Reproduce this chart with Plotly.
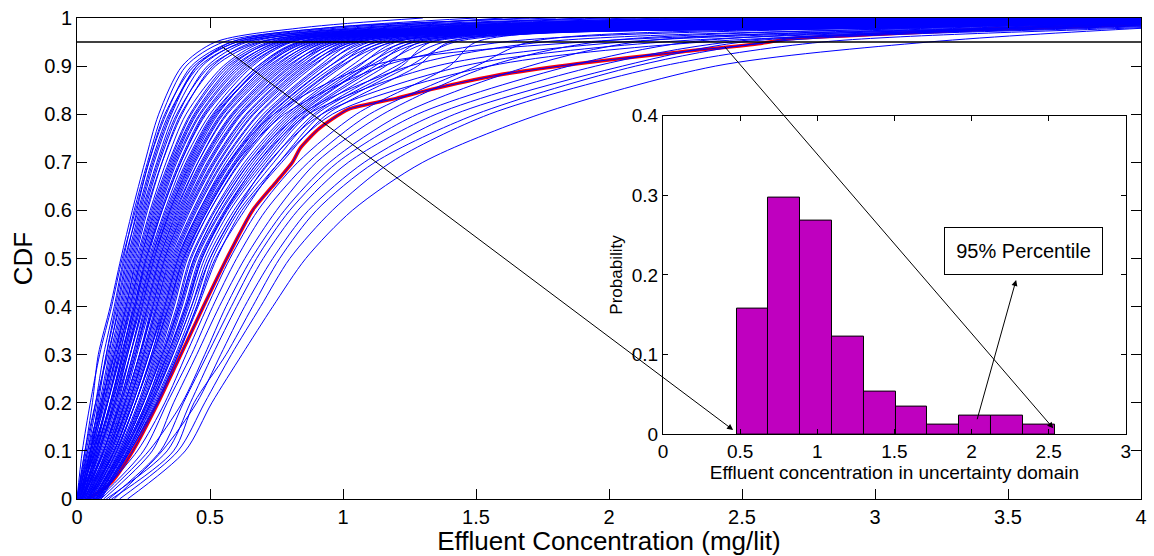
import plotly.graph_objects as go
import numpy as np

# ---------------- data ----------------
# CDF levels at which each Monte-Carlo curve is sampled
cdf_levels = [0.0, 0.1, 0.2, 0.3, 0.4, 0.5, 0.6, 0.7, 0.8, 0.9, 0.95, 0.98, 1.0]

# effluent concentration (mg/lit) reached by each curve at the CDF levels above
curves_dense = [
    [0.0, 0.03, 0.058, 0.08, 0.125, 0.165, 0.208, 0.255, 0.307, 0.395, 0.52, 0.85, 1.3],
    [0.0, 0.02, 0.05, 0.085, 0.13, 0.17, 0.22, 0.27, 0.33, 0.44, 0.6, 1.1, 2.1],
    [0.0, 0.035, 0.07, 0.1, 0.14, 0.175, 0.215, 0.265, 0.32, 0.41, 0.55, 0.95, 1.5],
    [0.01, 0.05, 0.08, 0.11, 0.145, 0.18, 0.23, 0.28, 0.345, 0.46, 0.63, 1.3, 2.4],
    [0.005, 0.04, 0.075, 0.11, 0.15, 0.185, 0.225, 0.27, 0.335, 0.43, 0.58, 1.0, 1.7],
    [0.0, 0.045, 0.085, 0.12, 0.155, 0.19, 0.235, 0.285, 0.35, 0.45, 0.6, 1.1, 1.6],
    [0.0, 0.03, 0.07, 0.115, 0.16, 0.195, 0.24, 0.29, 0.355, 0.45, 0.58, 0.95, 1.8],
    [0.01, 0.05, 0.09, 0.125, 0.165, 0.2, 0.245, 0.3, 0.365, 0.47, 0.62, 1.05, 2.0],
    [0.02, 0.055, 0.095, 0.13, 0.17, 0.205, 0.25, 0.305, 0.375, 0.5, 0.68, 1.4, 2.9],
    [0.0, 0.05, 0.095, 0.135, 0.175, 0.21, 0.255, 0.31, 0.38, 0.49, 0.64, 1.2, 1.9],
    [0.015, 0.06, 0.1, 0.14, 0.18, 0.215, 0.26, 0.32, 0.395, 0.51, 0.66, 1.15, 2.3],
    [0.0, 0.04, 0.09, 0.14, 0.185, 0.22, 0.265, 0.32, 0.39, 0.52, 0.69, 1.2, 2.5],
    [0.005, 0.055, 0.105, 0.145, 0.185, 0.225, 0.275, 0.335, 0.41, 0.55, 0.70, 1.3, 2.2],
    [0.01, 0.065, 0.11, 0.15, 0.19, 0.23, 0.28, 0.345, 0.425, 0.56, 0.72, 1.25, 2.6],
    [0.01, 0.065, 0.115, 0.155, 0.195, 0.235, 0.285, 0.35, 0.43, 0.57, 0.74, 1.5, 3.3],
    [0.02, 0.07, 0.115, 0.16, 0.2, 0.24, 0.29, 0.355, 0.44, 0.58, 0.73, 1.4, 2.4],
    [0.0, 0.05, 0.1, 0.15, 0.2, 0.24, 0.295, 0.36, 0.445, 0.59, 0.76, 1.45, 2.7],
    [0.0, 0.06, 0.115, 0.16, 0.205, 0.245, 0.3, 0.365, 0.45, 0.6, 0.75, 1.35, 2.8],
    [0.01, 0.075, 0.125, 0.17, 0.21, 0.25, 0.305, 0.37, 0.46, 0.61, 0.77, 1.5, 2.5],
    [0.02, 0.075, 0.125, 0.17, 0.215, 0.255, 0.31, 0.375, 0.465, 0.62, 0.79, 1.6, 3.5],
    [0.02, 0.08, 0.13, 0.175, 0.22, 0.26, 0.315, 0.385, 0.475, 0.63, 0.78, 1.45, 3.0],
    [0.01, 0.06, 0.115, 0.165, 0.215, 0.26, 0.32, 0.39, 0.48, 0.64, 0.8, 1.35, 2.6],
    [0.005, 0.07, 0.125, 0.175, 0.22, 0.265, 0.32, 0.39, 0.485, 0.65, 0.80, 1.6, 2.7],
    [0.015, 0.085, 0.135, 0.18, 0.225, 0.27, 0.33, 0.40, 0.5, 0.66, 0.81, 1.55, 3.2],
    [0.025, 0.085, 0.14, 0.185, 0.23, 0.275, 0.335, 0.41, 0.51, 0.68, 0.84, 1.75, 3.6],
    [0.02, 0.09, 0.145, 0.19, 0.235, 0.28, 0.34, 0.415, 0.515, 0.68, 0.83, 1.7, 2.9],
    [0.0, 0.07, 0.13, 0.185, 0.235, 0.28, 0.345, 0.42, 0.52, 0.7, 0.87, 1.6, 3.0],
    [0.01, 0.08, 0.14, 0.19, 0.24, 0.285, 0.35, 0.425, 0.525, 0.7, 0.85, 1.65, 3.4],
    [0.025, 0.095, 0.15, 0.2, 0.245, 0.29, 0.355, 0.435, 0.54, 0.71, 0.86, 1.8, 3.1],
    [0.03, 0.1, 0.155, 0.2, 0.245, 0.29, 0.35, 0.43, 0.53, 0.69, 0.84, 1.55, 3.9],
    [0.015, 0.085, 0.145, 0.2, 0.25, 0.295, 0.36, 0.44, 0.545, 0.72, 0.89, 1.85, 3.4],
    [0.015, 0.1, 0.16, 0.21, 0.255, 0.3, 0.365, 0.445, 0.55, 0.73, 0.88, 1.75, 3.6],
    [0.03, 0.1, 0.16, 0.21, 0.26, 0.305, 0.37, 0.455, 0.565, 0.75, 0.90, 1.9, 3.3],
    [0.02, 0.105, 0.165, 0.215, 0.265, 0.31, 0.38, 0.465, 0.58, 0.76, 0.92, 1.85, 3.8],
    [0.035, 0.11, 0.17, 0.22, 0.265, 0.31, 0.375, 0.455, 0.56, 0.74, 0.91, 1.7, 4.1],
    [0.02, 0.1, 0.165, 0.22, 0.27, 0.315, 0.385, 0.47, 0.585, 0.77, 0.94, 2.0, 3.8],
    [0.03, 0.11, 0.175, 0.225, 0.275, 0.32, 0.39, 0.475, 0.59, 0.78, 0.93, 2.0, 3.5],
    [0.04, 0.115, 0.18, 0.235, 0.28, 0.325, 0.395, 0.48, 0.6, 0.79, 0.97, 1.9, 4.3],
    [0.035, 0.12, 0.18, 0.235, 0.285, 0.33, 0.4, 0.49, 0.61, 0.8, 0.95, 1.95, 4.0],
    [0.03, 0.12, 0.185, 0.24, 0.285, 0.33, 0.405, 0.495, 0.615, 0.81, 0.99, 2.2, 3.7],
    [0.025, 0.115, 0.18, 0.235, 0.29, 0.335, 0.41, 0.5, 0.62, 0.82, 0.96, 2.1, 3.7],
    [0.04, 0.125, 0.19, 0.245, 0.295, 0.34, 0.415, 0.51, 0.635, 0.83, 0.98, 2.05, 4.2],
    [0.045, 0.13, 0.195, 0.25, 0.3, 0.345, 0.42, 0.515, 0.64, 0.84, 1.01, 2.1, 4.5],
    [0.04, 0.13, 0.195, 0.25, 0.3, 0.35, 0.425, 0.52, 0.65, 0.85, 1.0, 2.2, 3.9],
    [0.035, 0.125, 0.195, 0.255, 0.305, 0.355, 0.435, 0.53, 0.66, 0.86, 1.04, 2.35, 4.2],
    [0.045, 0.135, 0.2, 0.26, 0.31, 0.36, 0.44, 0.535, 0.665, 0.87, 1.02, 2.15, 4.4],
    [0.05, 0.14, 0.205, 0.265, 0.315, 0.365, 0.445, 0.545, 0.68, 0.88, 1.06, 2.3, 4.6],
    [0.05, 0.14, 0.21, 0.27, 0.32, 0.37, 0.45, 0.55, 0.685, 0.89, 1.03, 2.3, 4.1],
    [0.04, 0.14, 0.21, 0.27, 0.325, 0.375, 0.46, 0.56, 0.7, 0.91, 1.05, 2.25, 4.5],
    [0.055, 0.15, 0.22, 0.28, 0.33, 0.38, 0.465, 0.57, 0.71, 0.92, 1.09, 2.5, 4.4],
    [0.05, 0.15, 0.22, 0.28, 0.335, 0.385, 0.47, 0.575, 0.715, 0.93, 1.07, 2.4, 4.3],
    [0.045, 0.145, 0.22, 0.285, 0.34, 0.39, 0.475, 0.58, 0.725, 0.95, 1.13, 2.45, 4.8],
    [0.055, 0.155, 0.23, 0.29, 0.345, 0.395, 0.48, 0.59, 0.73, 0.95, 1.1, 2.35, 4.6],
    [0.06, 0.16, 0.235, 0.295, 0.35, 0.40, 0.485, 0.595, 0.74, 0.97, 1.16, 2.65, 4.5],
    [0.06, 0.16, 0.235, 0.3, 0.355, 0.405, 0.49, 0.6, 0.75, 0.98, 1.12, 2.5, 4.4],
    [0.06, 0.165, 0.24, 0.305, 0.36, 0.41, 0.5, 0.61, 0.76, 0.99, 1.19, 2.6, 4.9],
    [0.06, 0.165, 0.245, 0.31, 0.365, 0.415, 0.5, 0.615, 0.77, 1.0, 1.15, 2.45, 4.7],
    [0.065, 0.17, 0.25, 0.315, 0.375, 0.425, 0.515, 0.63, 0.79, 1.03, 1.18, 2.6, 4.5],
    [0.065, 0.17, 0.25, 0.32, 0.38, 0.43, 0.52, 0.64, 0.8, 1.05, 1.24, 2.75, 4.7],
    [0.07, 0.175, 0.26, 0.325, 0.385, 0.44, 0.53, 0.65, 0.81, 1.06, 1.2, 2.55, 4.8],
    [0.07, 0.175, 0.26, 0.33, 0.39, 0.445, 0.54, 0.66, 0.82, 1.08, 1.27, 2.85, 5.0],
    [0.07, 0.18, 0.265, 0.335, 0.395, 0.45, 0.545, 0.67, 0.83, 1.09, 1.23, 2.7, 4.6],
    [0.075, 0.18, 0.265, 0.34, 0.405, 0.46, 0.555, 0.68, 0.84, 1.1, 1.3, 2.95, 4.8],
    [0.075, 0.185, 0.275, 0.345, 0.41, 0.465, 0.56, 0.69, 0.85, 1.12, 1.26, 2.8, 4.9],
    [0.08, 0.19, 0.275, 0.35, 0.415, 0.47, 0.565, 0.7, 0.86, 1.14, 1.33, 3.05, 5.0],
    [0.08, 0.19, 0.28, 0.355, 0.42, 0.48, 0.575, 0.71, 0.87, 1.16, 1.29, 2.9, 4.7],
    [0.085, 0.195, 0.285, 0.36, 0.43, 0.49, 0.59, 0.725, 0.89, 1.2, 1.38, 3.1, 5.0],
    [0.085, 0.195, 0.29, 0.37, 0.44, 0.50, 0.6, 0.74, 0.9, 1.22, 1.33, 3.0, 5.0],
    [0.09, 0.2, 0.295, 0.375, 0.45, 0.51, 0.61, 0.76, 0.92, 1.25, 1.42, 3.2, 5.0],
    [0.09, 0.2, 0.3, 0.38, 0.455, 0.525, 0.62, 0.77, 0.94, 1.28, 1.4, 3.1, 4.9],
]

# curves with a long upper tail
curves_tail = [
    [0.05, 0.15, 0.22, 0.285, 0.345, 0.40, 0.49, 0.6, 0.78, 1.15, 1.6, 3.0, 4.8],
    [0.06, 0.17, 0.25, 0.32, 0.385, 0.44, 0.53, 0.65, 0.84, 1.25, 1.75, 3.3, 5.0],
    [0.04, 0.14, 0.21, 0.27, 0.33, 0.38, 0.46, 0.57, 0.74, 1.1, 1.9, 3.5, 5.0],
    [0.07, 0.18, 0.27, 0.34, 0.41, 0.47, 0.56, 0.68, 0.87, 1.35, 2.05, 3.6, 5.0],
    [0.08, 0.19, 0.28, 0.36, 0.43, 0.5, 0.6, 0.72, 0.92, 1.45, 2.2, 3.7, 5.0],
    [0.075, 0.2, 0.3, 0.38, 0.45, 0.52, 0.63, 0.76, 0.96, 1.55, 2.35, 3.8, 5.0],
]

# the sparse curves to the right of the band
curves_sparse = [
    [0.07, 0.227, 0.33, 0.41, 0.49, 0.575, 0.68, 0.83, 1.05, 1.4, 1.5, 2.7, 4.3],
    [0.08, 0.25, 0.339, 0.43, 0.51, 0.60, 0.71, 0.87, 1.1, 1.5, 1.7, 3.0, 4.6],
    [0.1, 0.283, 0.363, 0.45, 0.535, 0.631, 0.75, 0.9, 1.15, 1.55, 1.95, 3.2, 4.5],
    [0.09, 0.27, 0.395, 0.48, 0.56, 0.656, 0.78, 0.95, 1.22, 1.7, 2.1, 3.4, 4.8],
    [0.12, 0.314, 0.40, 0.49, 0.58, 0.675, 0.8, 0.98, 1.28, 1.85, 2.3, 3.5, 4.7],
    [0.11, 0.339, 0.426, 0.51, 0.60, 0.70, 0.83, 1.02, 1.35, 1.95, 2.45, 3.6, 4.9],
    [0.14, 0.32, 0.45, 0.54, 0.63, 0.736, 0.87, 1.08, 1.42, 2.05, 2.5, 3.8, 5.0],
    [0.13, 0.363, 0.44, 0.56, 0.66, 0.762, 0.9, 1.12, 1.5, 2.1, 2.6, 3.9, 5.0],
    [0.16, 0.38, 0.48, 0.58, 0.69, 0.80, 0.96, 1.18, 1.55, 2.2, 2.8, 4.0, 5.0],
    [0.19, 0.407, 0.507, 0.62, 0.736, 0.86, 1.035, 1.3, 1.74, 2.4, 3.2, 4.05, 5.0],
]

# highlighted (red) curve
red_x = [0.04, 0.127, 0.21, 0.305, 0.39, 0.475, 0.563, 0.66, 0.75, 0.81, 0.84, 0.91,
         1.02, 1.2, 1.32, 1.57, 1.88, 2.26, 2.57, 2.68, 3.05, 3.42, 3.8, 4.05]
red_y = [0.0, 0.033, 0.1, 0.2, 0.3, 0.4, 0.5, 0.6, 0.66, 0.7, 0.73, 0.77,
         0.81, 0.833, 0.85, 0.88, 0.905, 0.929, 0.947, 0.957, 0.967, 0.977, 0.983, 0.99]

percentile_level = 0.95

# inset histogram of the 95% percentile
hist_edges = [0.477, 0.683, 0.889, 1.096, 1.302, 1.508, 1.714, 1.921, 2.127, 2.333, 2.539]
hist_prob = [0.158, 0.297, 0.268, 0.122, 0.053, 0.035, 0.012, 0.024, 0.024, 0.012]

# ---------------- figure ----------------
FONT = "Liberation Sans, Arial, Helvetica, sans-serif"
W, H = 1154, 556
L, R, T, B = 77, 7, 16, 57
plot_w = W - L - R
plot_h = H - T - B

# inset placement (pixels of the picture)
inset_px = dict(x0=666.3, x1=1131.7, y0=434.0, y1=114.0)
ix0 = (inset_px["x0"] - L) / plot_w
ix1 = (inset_px["x1"] - L) / plot_w
iy0 = (H - B - inset_px["y0"]) / plot_h
iy1 = (H - B - inset_px["y1"]) / plot_h
INSET_XR = [0, 3]
INSET_YR = [0, 0.4]
MAIN_XR = [0, 4]
MAIN_YR = [0, 1]


def inset_to_main(xi, yi):
    fx = ix0 + (xi - INSET_XR[0]) / (INSET_XR[1] - INSET_XR[0]) * (ix1 - ix0)
    fy = iy0 + (yi - INSET_YR[0]) / (INSET_YR[1] - INSET_YR[0]) * (iy1 - iy0)
    return (MAIN_XR[0] + fx * (MAIN_XR[1] - MAIN_XR[0]),
            MAIN_YR[0] + fy * (MAIN_YR[1] - MAIN_YR[0]))


fig = go.Figure()

# red highlighted curve (thick), under the blue ones
fig.add_trace(go.Scatter(x=red_x, y=red_y, mode="lines",
                         line=dict(color="#FF0000", width=3.5, shape="spline", smoothing=0.6),
                         hoverinfo="skip", showlegend=False))

for row in curves_dense + curves_tail + curves_sparse:
    fig.add_trace(go.Scatter(x=row, y=cdf_levels, mode="lines",
                             line=dict(color="#0000FF", width=1, shape="spline", smoothing=0.8),
                             hoverinfo="skip", showlegend=False))
# the blue curve underneath the red highlight
fig.add_trace(go.Scatter(x=red_x, y=red_y, mode="lines",
                         line=dict(color="#0000FF", width=1, shape="spline", smoothing=0.6),
                         hoverinfo="skip", showlegend=False))

# inset histogram
edges = np.array(hist_edges)
centers = (edges[:-1] + edges[1:]) / 2
widths = np.diff(edges)
fig.add_trace(go.Bar(x=centers, y=hist_prob, width=widths,
                     marker=dict(color="#BF00BF", line=dict(color="black", width=1)),
                     xaxis="x2", yaxis="y2", hoverinfo="skip", showlegend=False))

# 95% level line
fig.add_shape(type="line", xref="x", yref="y", x0=MAIN_XR[0], x1=MAIN_XR[1],
              y0=percentile_level, y1=percentile_level,
              line=dict(color="black", width=1.5))

axis_common = dict(showgrid=False, zeroline=False, showline=True, linecolor="black",
                   linewidth=1, mirror="ticks", ticks="inside", tickcolor="black")

fig.update_layout(
    width=W, height=H,
    margin=dict(l=L, r=R, t=T, b=B),
    plot_bgcolor="white", paper_bgcolor="white",
    showlegend=False,
    bargap=0,
    xaxis=dict(range=MAIN_XR, tickvals=[0, 0.5, 1, 1.5, 2, 2.5, 3, 3.5, 4],
               ticktext=["0", "0.5", "1", "1.5", "2", "2.5", "3", "3.5", "4"],
               ticklen=10, tickfont=dict(family=FONT, size=20, color="black"),
               title=dict(text="Effluent Concentration (mg/lit)",
                          font=dict(family=FONT, size=26, color="black"), standoff=0),
               **axis_common),
    yaxis=dict(range=MAIN_YR, tickvals=[round(0.1 * i, 1) for i in range(11)],
               ticktext=["0", "0.1", "0.2", "0.3", "0.4", "0.5", "0.6", "0.7", "0.8", "0.9", "1"],
               ticklen=10, tickfont=dict(family=FONT, size=20, color="black"),
               title=dict(text="CDF", font=dict(family=FONT, size=26, color="black"), standoff=4),
               **axis_common),
    xaxis2=dict(domain=[ix0, ix1], anchor="y2", range=INSET_XR,
                tickvals=[0, 0.5, 1, 1.5, 2, 2.5, 3],
                ticktext=["0", "0.5", "1", "1.5", "2", "2.5", "3"],
                ticklen=5, tickfont=dict(family=FONT, size=19, color="black"),
                title=dict(text="Effluent concentration in uncertainty domain",
                           font=dict(family=FONT, size=19, color="black"), standoff=0),
                **axis_common),
    yaxis2=dict(domain=[iy0, iy1], anchor="x2", range=INSET_YR,
                tickvals=[0, 0.1, 0.2, 0.3, 0.4],
                ticktext=["0", "0.1", "0.2", "0.3", "0.4"],
                ticklen=5, tickfont=dict(family=FONT, size=19, color="black"),
                title=dict(text="Probability", font=dict(family=FONT, size=17, color="black"),
                           standoff=4),
                **axis_common),
)

# arrows from the 95% crossing points to the histogram
arrows = [
    ((0.538, 0.9435), (0.4545, 0.0054)),
    ((2.43, 0.9435), (2.53, 0.0075)),
]
for (tx, ty), (hx, hy) in arrows:
    mx, my = inset_to_main(hx, hy)
    fig.add_annotation(x=mx, y=my, ax=tx, ay=ty, xref="x", yref="y", axref="x", ayref="y",
                       text="", showarrow=True, arrowhead=2, arrowsize=1.2, arrowwidth=1,
                       arrowcolor="black", standoff=0)

# label box and its pointer
fig.add_annotation(x=2.289, y=0.1937, ax=2.034, ay=0.017, xref="x2", yref="y2",
                   axref="x2", ayref="y2", text="", showarrow=True, arrowhead=2,
                   arrowsize=1.2, arrowwidth=1, arrowcolor="black", standoff=0)
fig.add_annotation(x=2.335, y=0.2306, xref="x2", yref="y2", text="95% Percentile",
                   showarrow=False, xanchor="center", yanchor="middle",
                   font=dict(family=FONT, size=20, color="black"),
                   bordercolor="black", borderwidth=1, bgcolor="white",
                   width=155, height=44, borderpad=1)

fig.write_html("out.html")
